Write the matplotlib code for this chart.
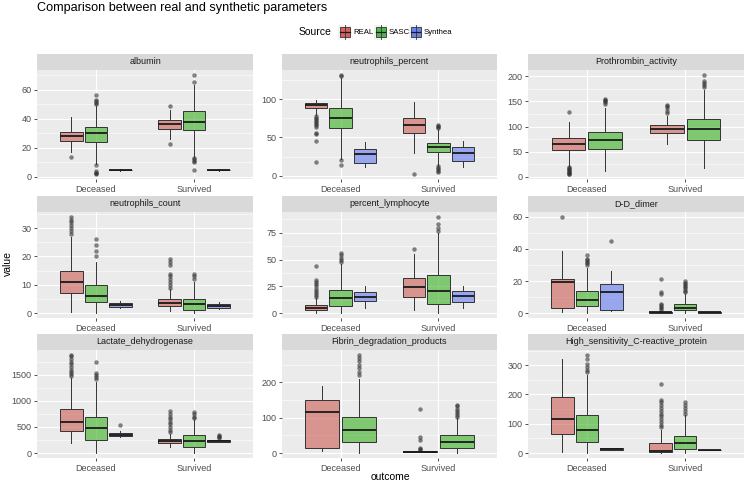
import matplotlib
matplotlib.use('Agg')
import matplotlib.pyplot as plt
from matplotlib.patches import Rectangle
from matplotlib.lines import Line2D
from matplotlib.ticker import MultipleLocator

plt.rcParams['font.family'] = ['Liberation Sans', 'DejaVu Sans']

# box stats: (whislo, q1, med, q3, whishi, fliers)
outcomes = ['Deceased', 'Survived']
sources = ['REAL', 'SASC', 'Synthea']

albumin = {
    'Deceased': {'REAL': (17, 24.5, 28, 31, 41, [13.5]),
                 'SASC': (9, 24, 30, 34, 49, [50, 51, 52, 53, 56, 8, 4, 3, 2.5, 2]),
                 'Synthea': (4.3, 4.5, 4.8, 5.0, 5.5, [])},
    'Survived': {'REAL': (26, 33, 36.5, 39, 46, [48.5, 22.5]),
                 'SASC': (14, 32, 38, 45, 63, [65, 70, 13, 12, 11, 10, 5]),
                 'Synthea': (4.3, 4.5, 4.8, 5.0, 5.5, [])},
}
neutrophils_percent = {
    'Deceased': {'REAL': (80, 88, 92, 95, 99, [78, 76, 74, 72, 70, 68, 66, 64, 56, 55, 46, 18]),
                 'SASC': (22, 62, 75, 88, 128, [130, 132, 20, 14]),
                 'Synthea': (11, 17, 28, 35, 44, [])},
    'Survived': {'REAL': (30, 56, 67, 76, 96, [2]),
                 'SASC': (13, 31, 37, 43, 60, [62, 64, 65, 66, 12, 10, 8, 6, 5]),
                 'Synthea': (11, 19, 29, 38, 45, [])},
}
prothrombin_activity = {
    'Deceased': {'REAL': (22, 54, 66, 77, 109, [128, 20, 18, 16, 14, 12, 10, 8, 6, 5]),
                 'SASC': (11, 56, 73, 90, 136, [145, 148, 150, 153, 155])},
    'Survived': {'REAL': (66, 87, 96, 104, 121, [126, 131, 136, 140, 143]),
                 'SASC': (18, 73, 95, 114, 172, [178, 182, 186, 190, 203])},
}
neutrophils_count = {
    'Deceased': {'REAL': (0.3, 7, 11, 15, 27, [28, 29, 30, 31, 32, 33, 34]),
                 'SASC': (0, 4, 6, 10, 18, [20, 22, 24, 26]),
                 'Synthea': (1.8, 2.2, 3, 3.7, 4.2, [])},
    'Survived': {'REAL': (0.8, 2.5, 3.5, 5, 8.5, [9, 10, 11, 12, 13, 14, 17, 18, 19]),
                 'SASC': (0, 1, 3.2, 5, 11, [12, 13, 14]),
                 'Synthea': (1.5, 2, 2.5, 3.3, 4, [])},
}
percent_lymphocyte = {
    'Deceased': {'REAL': (0.5, 3, 5, 7.5, 14, [15, 17, 19, 21, 23, 25, 27, 29, 31, 44]),
                 'SASC': (0, 7, 14.5, 22, 46, [48, 50, 52, 54, 56]),
                 'Synthea': (5, 11, 15, 20, 25, [])},
    'Survived': {'REAL': (3, 15, 24.5, 32.5, 55, [60]),
                 'SASC': (0, 9, 21, 36, 75, [77, 80, 83, 90]),
                 'Synthea': (5, 10, 16, 21, 25, [])},
}
dd_dimer = {
    'Deceased': {'REAL': (0.5, 3, 19.5, 21, 39, [60]),
                 'SASC': (0, 4.5, 8.5, 14, 28, [30, 31, 32, 33, 34, 36]),
                 'Synthea': (1.5, 2, 13.5, 18, 26, [45])},
    'Survived': {'REAL': (0.2, 0.3, 0.5, 1.0, 1.5, [2, 3, 4, 5, 6, 12, 13, 21]),
                 'SASC': (0, 2, 3.5, 6, 12, [13, 14, 15, 16, 17, 18, 19, 20]),
                 'Synthea': (0.3, 0.4, 0.5, 0.6, 0.7, [])},
}
lactate_dehydrogenase = {
    'Deceased': {'REAL': (190, 430, 590, 840, 1440, [1480, 1520, 1560, 1600, 1650, 1700, 1750, 1800, 1850, 1880]),
                 'SASC': (0, 250, 480, 700, 1370, [1420, 1460, 1500, 1540, 1750]),
                 'Synthea': (300, 320, 350, 390, 420, [540])},
    'Survived': {'REAL': (110, 190, 225, 265, 370, [400, 450, 500, 550, 600, 650, 700, 750, 800]),
                 'SASC': (0, 120, 230, 340, 640, [680, 700, 740, 780]),
                 'Synthea': (215, 220, 235, 245, 255, [280, 300, 320, 340])},
}
fibrin_degradation = {
    'Deceased': {'REAL': (5, 15, 115, 150, 190, []),
                 'SASC': (0, 30, 65, 102, 210, [220, 230, 240, 250, 260, 270, 278])},
    'Survived': {'REAL': (2, 3, 4, 5, 7, [10, 12, 15, 38, 45, 125]),
                 'SASC': (0, 15, 32, 50, 98, [102, 108, 114, 120, 126, 132, 137])},
}
hs_crp = {
    'Deceased': {'REAL': (3, 65, 115, 190, 320, []),
                 'SASC': (0, 38, 80, 130, 265, [275, 285, 295, 305, 320, 335]),
                 'Synthea': (10, 11, 13, 16, 17, [])},
    'Survived': {'REAL': (0, 3, 8, 33, 80, [88, 95, 105, 115, 125, 135, 145, 155, 165, 175, 180, 237]),
                 'SASC': (0, 15, 35, 60, 130, [135, 145, 155, 165, 175]),
                 'Synthea': (9, 9.5, 10, 10.5, 11, [])},
}

panel_names = ['albumin', 'neutrophils_percent', 'Prothrombin_activity',
               'neutrophils_count', 'percent_lymphocyte', 'D-D_dimer',
               'Lactate_dehydrogenase', 'Fibrin_degradation_products',
               'High_sensitivity_C-reactive_protein']
panel_data = [albumin, neutrophils_percent, prothrombin_activity,
              neutrophils_count, percent_lymphocyte, dd_dimer,
              lactate_dehydrogenase, fibrin_degradation, hs_crp]
tick_steps = [20, 50, 50, 10, 25, 20, 500, 100, 100]

box_colors = {'REAL': '#cc5c52', 'SASC': '#38b020', 'Synthea': '#6178f0'}
key_colors = {'REAL': '#d9605a', 'SASC': '#4cb84a', 'Synthea': '#6a82ee'}

W, H = 749, 483
fig = plt.figure(figsize=(W / 100, H / 100), dpi=100)

cols = [(37, 253), (282, 497), (528, 744)]
rows = [(70, 179), (212, 318), (350, 458)]
strip_h = 16

for i, (name, data) in enumerate(zip(panel_names, panel_data)):
    r, c = divmod(i, 3)
    x0, x1 = cols[c]
    y0, y1 = rows[r]
    ax = fig.add_axes([x0 / W, 1 - y1 / H, (x1 - x0) / W, (y1 - y0) / H])
    ax.set_facecolor('#ebebeb')
    for s in ax.spines.values():
        s.set_visible(False)

    allv = []
    for k, oc in enumerate(outcomes):
        present = [s for s in sources if s in data[oc]]
        n = len(present)
        step = 0.75 / n
        for j, src in enumerate(present):
            lo, q1, med, q3, hi, fl = data[oc][src]
            allv += [lo, hi] + fl
            pos = k + 1 + (j - (n - 1) / 2) * step
            st = [dict(whislo=lo, q1=q1, med=med, q3=q3, whishi=hi, fliers=fl)]
            fc = matplotlib.colors.to_rgba(box_colors[src], 0.6)
            ax.bxp(st, positions=[pos], widths=step * 0.92, patch_artist=True,
                   showcaps=False, manage_ticks=False, zorder=3,
                   boxprops=dict(facecolor=fc, edgecolor='#333333', linewidth=0.7),
                   medianprops=dict(color='#1a1a1a', linewidth=1.3),
                   whiskerprops=dict(color='#333333', linewidth=0.7),
                   flierprops=dict(marker='o', markerfacecolor='#333333', markeredgecolor='none',
                                   alpha=0.6, markersize=3.2))

    lo, hi = min(allv), max(allv)
    rng = hi - lo
    ax.set_ylim(lo - 0.05 * rng, hi + 0.05 * rng)
    ax.set_xlim(0.4, 2.6)
    ax.set_xticks([1, 2])
    ax.set_xticklabels(outcomes)
    ax.yaxis.set_major_locator(MultipleLocator(tick_steps[i]))
    ax.yaxis.set_minor_locator(MultipleLocator(tick_steps[i] / 2))
    ax.grid(True, which='major', color='white', linewidth=0.8, zorder=0)
    ax.grid(True, which='minor', axis='y', color='white', linewidth=0.4, zorder=0)
    ax.set_axisbelow(True)
    ax.tick_params(axis='both', which='major', length=2.5, width=0.6, color='#333333',
                   labelsize=6.5, labelcolor='#4d4d4d', pad=1.5)
    ax.tick_params(axis='y', which='minor', length=0)

    # facet strip
    sax = fig.add_axes([x0 / W, 1 - y0 / H, (x1 - x0) / W, strip_h / H])
    sax.set_facecolor('#d9d9d9')
    sax.set_xticks([])
    sax.set_yticks([])
    for s in sax.spines.values():
        s.set_visible(False)
    sax.text(0.5, 0.5, name, ha='center', va='center', fontsize=6.5, color='#1a1a1a',
             transform=sax.transAxes)

fig.text(37 / W, 1 - 8 / H, 'Comparison between real and synthetic parameters',
         fontsize=9.1, ha='left', va='center', color='black')
fig.text(8 / W, 1 - 264 / H, 'value', rotation=90, fontsize=7.5, ha='center', va='center')
fig.text(390 / W, 1 - 477 / H, 'outcome', fontsize=7.5, ha='center', va='center')

# legend
ly = 32
fig.text(299 / W, 1 - ly / H, 'Source', fontsize=7.5, ha='left', va='center')
key_x = [338, 374, 409]
for src, kx in zip(sources, key_x):
    fig.add_artist(Rectangle((kx / W, 1 - (ly + 7.5) / H), 13 / W, 15 / H,
                             transform=fig.transFigure, facecolor='#f2f2f2', edgecolor='none'))
    cx = kx + 6.5
    fig.add_artist(Line2D([cx / W, cx / W], [1 - (ly + 7) / H, 1 - (ly - 7) / H],
                          transform=fig.transFigure, color='#333333', linewidth=0.6))
    fig.add_artist(Rectangle(((cx - 5) / W, 1 - (ly + 4.5) / H), 10 / W, 9 / H,
                             transform=fig.transFigure, facecolor=key_colors[src],
                             edgecolor='#333333', linewidth=0.6))
    fig.add_artist(Line2D([(cx - 5) / W, (cx + 5) / W], [1 - ly / H, 1 - ly / H],
                          transform=fig.transFigure, color='#1a1a1a', linewidth=0.9))
    fig.text((kx + 15) / W, 1 - ly / H, src, fontsize=5.6, ha='left', va='center')

fig.savefig('out.png', dpi=100)
